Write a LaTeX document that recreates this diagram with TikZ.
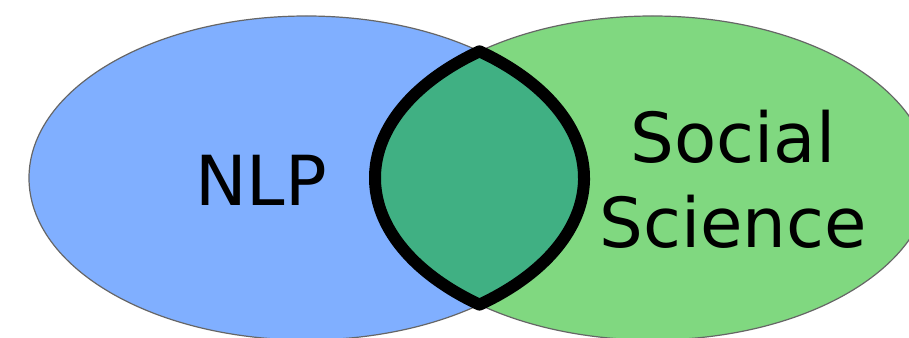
\documentclass[tikz,border=0pt]{standalone}
\usepackage{fontspec}
\setmainfont{DejaVu Sans}
\definecolor{nlpblue}{HTML}{80AFFF}
\definecolor{ssgreen}{HTML}{80D880}
\definecolor{lensgreen}{HTML}{40B083}
\definecolor{rimgray}{HTML}{666666}
\tikzset{
  setshape/.style={draw=rimgray, line width=1.2pt},
  lensshape/.style={fill=lensgreen, draw=black, line width=12pt, line join=round},
  biglabel/.style={font=\fontsize{69}{85}\selectfont, align=center, inner sep=0pt}
}
\begin{document}
\begin{tikzpicture}[x=1pt,y=1pt]
\useasboundingbox (0,0) rectangle (909,337);
\fill[white] (0,0) rectangle (909,337);
\coordinate (cl) at (306.5,159);
\coordinate (cr) at (652.5,159);
\draw[setshape, fill=nlpblue] (cl) ellipse [x radius=277.5, y radius=162];
\draw[setshape, fill=ssgreen] (cr) ellipse [x radius=277.5, y radius=162];
\draw[lensshape] (479.5,285.7)
  arc[x radius=277.5, y radius=162, start angle=128.56, end angle=231.44]
  arc[x radius=277.5, y radius=162, start angle=-51.44, end angle=51.44] -- cycle;
\node[biglabel] (nlp) at (261,157) {NLP};
\node[biglabel] (ss) at (733,157.5) {Social\\Science};
\end{tikzpicture}
\end{document}
